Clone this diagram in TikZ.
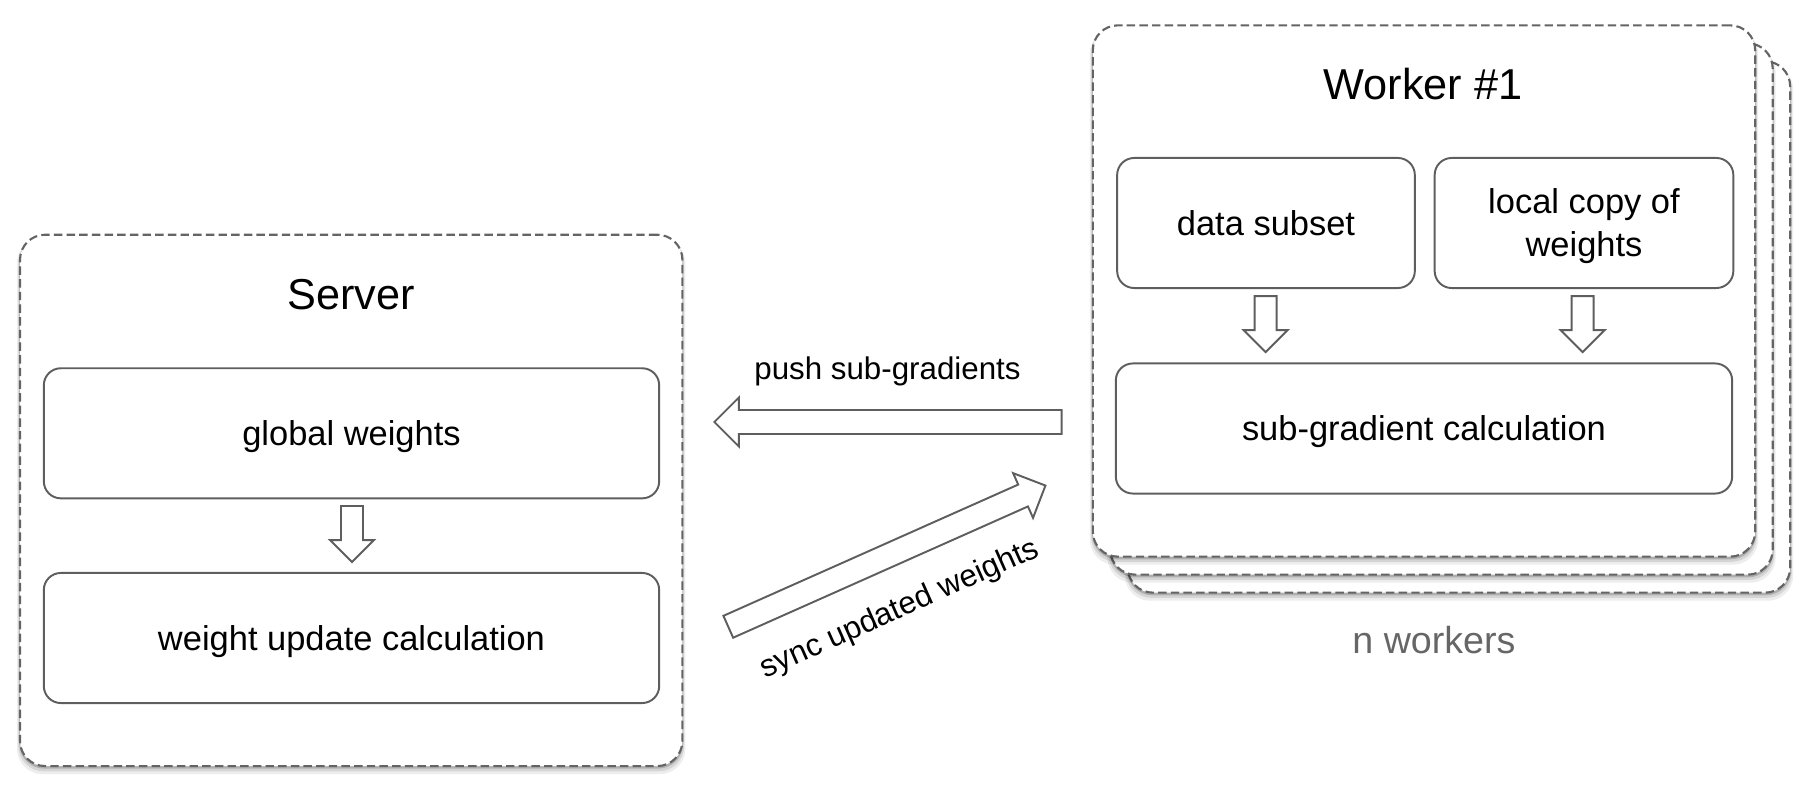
\documentclass[tikz,border=0pt]{standalone}
\usepackage{fontspec}
\setmainfont{Liberation Sans}
\usetikzlibrary{shapes.arrows,shadows,calc}
\definecolor{linegray}{HTML}{5E5E5E}
\definecolor{dashgray}{HTML}{646464}
\definecolor{labelgray}{HTML}{666666}
\tikzset{
  softshadow/.style={
    general shadow={shadow yshift=-1.6pt, opacity=0.07, fill=black, shadow scale=1.009},
    general shadow={shadow yshift=-1.1pt, opacity=0.10, fill=black, shadow scale=1.005},
    general shadow={shadow yshift=-0.6pt, opacity=0.18, fill=black, shadow scale=1.002}},
  group/.style={rectangle, rounded corners=0.25cm, draw=dashgray, line width=0.6pt,
    dash pattern=on 2.4pt off 1.2pt, fill=white, softshadow,
    minimum width=6.62cm, minimum height=5.31cm, inner sep=0pt},
  box/.style={rectangle, rounded corners=0.17cm, draw=linegray, line width=0.55pt,
    fill=white, minimum height=1.30cm, inner sep=0pt, align=center,
    text height=7pt, text depth=0pt,
    font=\fontsize{9.8}{12.2}\selectfont},
  grouptitle/.style={font=\fontsize{12.3}{14}\selectfont, inner sep=0pt},
  smallarrow/.style={single arrow, draw=linegray, line width=0.55pt, fill=white,
    inner xsep=0pt, inner ysep=0.10cm, single arrow head extend=0.11cm,
    minimum height=0.56cm, rotate=-90, anchor=tip},
  bigarrow/.style={single arrow, draw=linegray, line width=0.55pt, fill=white,
    inner xsep=0pt, inner ysep=0.11cm, single arrow head extend=0.125cm,
    minimum height=3.47cm, anchor=tip},
  label/.style={font=\fontsize{8.9}{11}\selectfont, inner sep=0pt, anchor=base},
}
\begin{document}
\begin{tikzpicture}[x=0.01cm, y=-0.01cm]
\useasboundingbox (0,0) rectangle (1814,788);

% Server
\node[group] (server) at (351.2,500.4) {};
\node[grouptitle] (servertitle) at (351,295) {Server};
\node[box, minimum width=6.15cm] (gw) at (351.5,433.3) {global weights};
\node[box, minimum width=6.15cm] (wu) at (351.5,638) {weight update calculation};
\node[smallarrow] (a1) at ($(wu.north)+(0.5,-8.6)$) {};

% Workers
\node[group] (w3) at (1459,327) {};
\node[group] (w2) at (1441.5,309) {};
\node[group] (w1) at (1424,291) {};
\node[grouptitle] (w1title) at (1423,84.5) {Worker \#1};
\node[box, minimum width=2.975cm] (ds) at (1266,223) {data subset};
\node[box, minimum width=2.985cm, text height=19.2pt, text depth=0pt] (lc) at (1584,223) {local copy of\\weights};
\node[box, minimum width=6.16cm] (sg) at (1424,428.5) {sub-gradient calculation};
\node[smallarrow] (a2) at ($(ds.south|-sg.north)+(-0.4,-9)$) {};
\node[smallarrow] (a3) at ($(lc.south|-sg.north)+(-1.4,-9)$) {};
\node[font=\fontsize{10.7}{13}\selectfont, text=labelgray, inner sep=0pt, anchor=base] (nw) at (1434,653) {n workers};

% Communication arrows
\coordinate (pushtip) at (713,422);
\coordinate (synctip) at (1046.7,485);
\node[bigarrow, rotate=180] (push) at (pushtip) {};
\node[label] (pushlbl) at (887.5,379.5) {push sub-gradients};
\node[bigarrow, rotate=24] (sync) at (synctip) {};
\node[label, rotate=24] (synclbl) at (903,617) {sync updated weights};
\end{tikzpicture}
\end{document}
